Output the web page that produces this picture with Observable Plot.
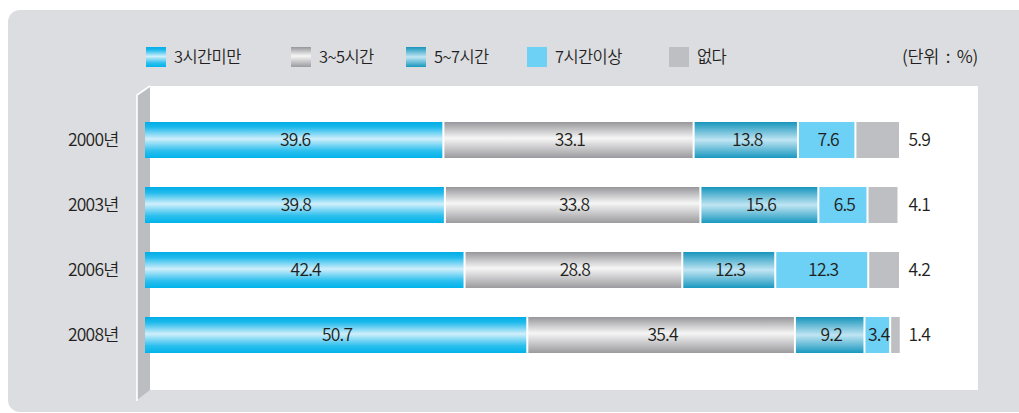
<!DOCTYPE html>
<html><head><meta charset="utf-8">
<script src="https://cdn.jsdelivr.net/npm/d3@7"></script>
<script src="https://cdn.jsdelivr.net/npm/@observablehq/plot@0.6"></script>
<style>
body{margin:0;background:#fff;}
#wrap{position:relative;width:1019px;height:413px;overflow:hidden;font-family:"Noto Sans CJK KR",sans-serif;color:#231f20;}
.abs{position:absolute;}
.sw{position:absolute;top:47px;width:20px;height:20px;}
.lt{position:absolute;top:44px;font-size:16.5px;font-weight:350;letter-spacing:-0.6px;line-height:24px;white-space:nowrap;}
#chart text{font-weight:350;}
</style></head>
<body>
<div id="wrap">
  <div class="abs" style="left:8px;top:10px;width:1040px;height:402px;background:#dcdde0;border-radius:12px;"></div>
  <div class="abs" style="left:150px;top:86px;width:828px;height:304px;background:#fff;"></div>
  <svg class="abs" style="left:0;top:0" width="1019" height="413">
    <polygon points="137,95 150,86 150,390 137,400" fill="#bcbdc1"/>
    <polyline points="137,401 137,95 150,86" fill="none" stroke="#fff" stroke-width="1.6"/>
    <defs>
      <linearGradient id="gA" x1="0" y1="0" x2="0" y2="1">
        <stop offset="0" stop-color="#00ade6"/><stop offset="0.15" stop-color="#1fbaec"/>
        <stop offset="0.47" stop-color="#d0effb"/><stop offset="0.8" stop-color="#2cbfee"/>
        <stop offset="1" stop-color="#00b3ea"/>
      </linearGradient>
      <linearGradient id="gB" x1="0" y1="0" x2="0" y2="1">
        <stop offset="0" stop-color="#97979b"/><stop offset="0.45" stop-color="#f6f6f6"/>
        <stop offset="1" stop-color="#9b9b9f"/>
      </linearGradient>
      <linearGradient id="gC" x1="0" y1="0" x2="0" y2="1">
        <stop offset="0" stop-color="#1795bc"/><stop offset="0.5" stop-color="#c0e5f3"/>
        <stop offset="1" stop-color="#1998bf"/>
      </linearGradient>
    </defs>
  </svg>
  <div id="legend"></div>
  <div class="lt" style="left:902px;font-size:17.5px;letter-spacing:-0.3px;word-spacing:3px;">(단위 : %)</div>
  <div id="chart" class="abs" style="left:0;top:0"></div>
</div>
<script>
const years = ["2000년", "2003년", "2006년", "2008년"];
const categories = ["3시간미만", "3~5시간", "5~7시간", "7시간이상", "없다"];
const under3 = [39.6, 39.8, 42.4, 50.7];
const from3to5 = [33.1, 33.8, 28.8, 35.4];
const from5to7 = [13.8, 15.6, 12.3, 9.2];
const over7 = [7.6, 6.5, 12.3, 3.4];
const none = [5.9, 4.1, 4.2, 1.4];
const series = [under3, from3to5, from5to7, over7, none];
const fills = ["url(#gA)", "url(#gB)", "url(#gC)", "#6dd0f5", "#bebfc3"];
const cssFills = [
  "linear-gradient(#00ade6,#1fbaec 15%,#d0effb 47%,#2cbfee 80%,#00b3ea)",
  "linear-gradient(#97979b,#f6f6f6 45%,#9b9b9f)",
  "linear-gradient(#1795bc,#c0e5f3 50%,#1998bf)",
  "#6dd0f5", "#bebfc3"
];

const data = [];
years.forEach((y, i) => categories.forEach((c, j) => data.push({year: y, cat: c, value: series[j][i]})));

// legend
const legendX = [146, 291, 406, 527, 669];
const leg = document.getElementById("legend");
categories.forEach((c, j) => {
  const s = document.createElement("div");
  s.className = "sw"; s.style.left = legendX[j] + "px"; s.style.background = cssFills[j];
  leg.appendChild(s);
  const t = document.createElement("div");
  t.className = "lt"; t.style.left = (legendX[j] + 28) + "px"; t.textContent = c;
  leg.appendChild(t);
});

const font = '"Noto Sans CJK KR",sans-serif';
const last = categories[categories.length - 1];
const chart = Plot.plot({
  width: 1019, height: 413,
  marginLeft: 145, marginRight: 118, marginTop: 91, marginBottom: 29,
  style: {background: "transparent", fontFamily: font, overflow: "visible", letterSpacing: "-0.8px"},
  x: {domain: [0, 100], axis: null},
  y: {domain: years, padding: 0.452},
  color: {domain: categories, range: fills},
  marks: [
    Plot.axisY({tickSize: 0, tickPadding: 27, fontSize: 17.5, fill: "#231f20", label: null, fontFamily: font}),
    Plot.barX(data, Plot.stackX({x: "value", y: "year", fill: "cat", order: categories, insetRight: 2})),
    Plot.text(data, Plot.stackX({x: "value", y: "year", z: "cat", order: categories,
      text: d => d.cat === last ? "" : d.value.toFixed(1), fill: "#231f20", fontSize: 17.5})),
    Plot.text(data.filter(d => d.cat === last), {x: () => 100, y: "year", text: d => d.value.toFixed(1),
      textAnchor: "start", dx: 7, fill: "#231f20", fontSize: 17.5})
  ]
});
document.getElementById("chart").appendChild(chart);
</script>
</body></html>
